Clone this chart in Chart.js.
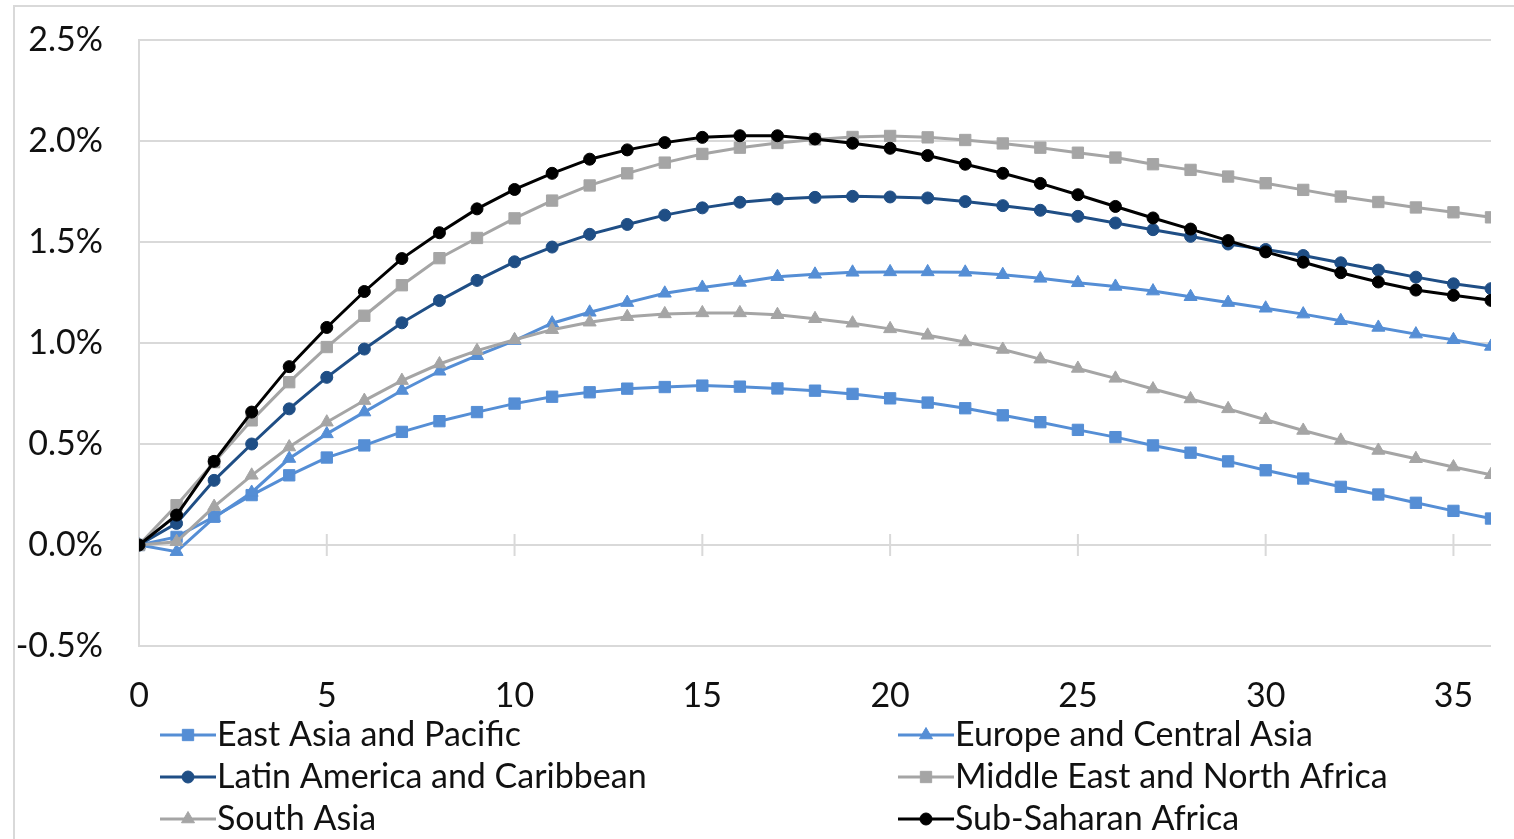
<!DOCTYPE html>
<html>
<head>
<meta charset="utf-8">
<script src="https://cdn.jsdelivr.net/npm/chart.js@4.4.1/dist/chart.umd.min.js"></script>
<style>
  html, body { margin: 0; padding: 0; background: #fff; overflow: hidden; }
  #wrap { position: relative; width: 1514px; height: 839px; }
  #frame { position: absolute; left: 13px; top: 5px; width: 1600px; height: 1000px;
           border-left: 2px solid #d9d9d9; border-top: 2px solid #d9d9d9; box-sizing: border-box; }
  canvas { position: absolute; left: 0; top: 0; }
</style>
</head>
<body>
<div id="wrap">
  <div id="frame"></div>
  <canvas id="c" width="1514" height="839"></canvas>
</div>
<script>
// ---- data (values in %) ----
const periods = [0,1,2,3,4,5,6,7,8,9,10,11,12,13,14,15,16,17,18,19,20,21,22,23,24,25,26,27,28,29,30,31,32,33,34,35,36];
const seriesNames = ["East Asia and Pacific","Europe and Central Asia","Latin America and Caribbean","Middle East and North Africa","South Asia","Sub-Saharan Africa"];
const eastAsiaPacific = [0,0.04,0.14,0.247,0.345,0.433,0.493,0.56,0.613,0.658,0.70,0.734,0.756,0.774,0.782,0.789,0.784,0.775,0.764,0.748,0.726,0.705,0.677,0.642,0.608,0.57,0.534,0.493,0.457,0.414,0.37,0.329,0.288,0.25,0.209,0.169,0.131];
const europeCentralAsia = [0,-0.033,0.135,0.26,0.428,0.55,0.658,0.765,0.86,0.937,1.012,1.098,1.152,1.20,1.246,1.275,1.30,1.328,1.34,1.35,1.352,1.352,1.35,1.338,1.32,1.298,1.28,1.257,1.229,1.20,1.172,1.143,1.11,1.077,1.044,1.016,0.983];
const latinAmericaCaribbean = [0,0.107,0.32,0.50,0.674,0.83,0.97,1.10,1.21,1.31,1.402,1.475,1.538,1.587,1.633,1.669,1.697,1.713,1.721,1.726,1.723,1.718,1.70,1.68,1.657,1.627,1.594,1.561,1.528,1.49,1.463,1.433,1.397,1.361,1.326,1.293,1.269];
const middleEastNorthAfrica = [0,0.197,0.41,0.617,0.806,0.98,1.135,1.286,1.42,1.52,1.617,1.705,1.78,1.84,1.893,1.936,1.967,1.99,2.008,2.02,2.025,2.018,2.005,1.988,1.967,1.942,1.918,1.885,1.857,1.824,1.791,1.758,1.725,1.698,1.671,1.647,1.622];
const southAsia = [0,0.016,0.19,0.345,0.485,0.608,0.715,0.814,0.896,0.962,1.016,1.066,1.103,1.13,1.144,1.149,1.149,1.14,1.12,1.098,1.07,1.038,1.005,0.968,0.92,0.874,0.825,0.772,0.723,0.674,0.62,0.567,0.518,0.468,0.427,0.386,0.348];
const subSaharanAfrica = [0,0.148,0.414,0.658,0.883,1.077,1.255,1.418,1.546,1.664,1.76,1.84,1.91,1.956,1.992,2.018,2.026,2.026,2.01,1.989,1.964,1.928,1.885,1.84,1.79,1.734,1.676,1.619,1.564,1.507,1.451,1.40,1.348,1.302,1.262,1.236,1.211];
const yTicks = [-0.5,0,0.5,1.0,1.5,2.0,2.5];
const xTickStep = 5;

// ---- styles ----
const allValues = [eastAsiaPacific, europeCentralAsia, latinAmericaCaribbean, middleEastNorthAfrica, southAsia, subSaharanAfrica];
const colors = ['#558ed5','#558ed5','#1f4e85','#a5a5a5','#a5a5a5','#000000'];
const markers = ['rect','triangle','circle','rect','triangle','circle'];
const radii = [8,7.5,6,8,7.5,6];
const FONT = 'Lato';
const FSIZE = 34;
const TXT = '#111111';

Chart.defaults.font.family = FONT;
Chart.defaults.font.size = FSIZE;
Chart.defaults.color = TXT;

const datasets = allValues.map((vals, i) => ({
  label: seriesNames[i],
  data: periods.map((p, k) => ({x: p, y: vals[k]})),
  borderColor: colors[i],
  backgroundColor: colors[i],
  borderWidth: 3,
  pointStyle: markers[i],
  pointRadius: radii[i],
  pointBorderWidth: 1,
  pointBackgroundColor: colors[i],
  pointBorderColor: colors[i],
  tension: 0,
  order: allValues.length - i
}));

const zeroAxis = {
  id: 'zeroAxis',
  beforeDatasetsDraw(chart) {
    const {ctx, chartArea, scales} = chart;
    const y0 = scales.y.getPixelForValue(0);
    ctx.save();
    ctx.strokeStyle = '#d9d9d9';
    ctx.lineWidth = 2;
    ctx.beginPath();
    ctx.moveTo(chartArea.left, y0);
    ctx.lineTo(chartArea.right, y0);
    scales.x.ticks.forEach(t => {
      const px = scales.x.getPixelForValue(t.value);
      ctx.moveTo(px, y0 - 11);
      ctx.lineTo(px, y0 + 11);
    });
    ctx.stroke();
    ctx.restore();
  }
};

const customLegend = {
  id: 'customLegend',
  afterDraw(chart) {
    const ctx = chart.ctx;
    const colX = [160, 898];
    const rowY0 = 735, rowStep = 42, lineLen = 56;
    ctx.save();
    chart.data.datasets.forEach((ds, i) => {
      const x = colX[i % 2];
      const y = rowY0 + Math.floor(i / 2) * rowStep;
      ctx.strokeStyle = ds.borderColor;
      ctx.lineWidth = 3;
      ctx.beginPath();
      ctx.moveTo(x, y);
      ctx.lineTo(x + lineLen, y);
      ctx.stroke();
      ctx.fillStyle = ds.backgroundColor;
      ctx.strokeStyle = ds.borderColor;
      ctx.lineWidth = 1;
      Chart.helpers.drawPoint(ctx, {pointStyle: ds.pointStyle, radius: ds.pointRadius, borderWidth: 1, rotation: 0}, x + lineLen / 2, y);
      ctx.fillStyle = TXT;
      ctx.font = FSIZE + 'px ' + FONT;
      ctx.textBaseline = 'middle';
      ctx.textAlign = 'left';
      ctx.fillText(ds.label, x + lineLen + 1, y);
    });
    ctx.restore();
  }
};

new Chart(document.getElementById('c'), {
  type: 'line',
  data: { datasets },
  plugins: [zeroAxis, customLegend],
  options: {
    responsive: false,
    animation: false,
    layout: { padding: { top: 40, right: 23, left: 0, bottom: 0 } },
    plugins: { legend: { display: false }, tooltip: { enabled: false } },
    scales: {
      x: {
        type: 'linear', min: 0, max: 36,
        ticks: { stepSize: xTickStep, includeBounds: false, padding: 30, color: TXT, maxRotation: 0 },
        grid: { display: false, drawTicks: false },
        border: { display: false },
        afterFit(s) { s.height = 193; s.paddingLeft = 0; s.paddingRight = 0; }
      },
      y: {
        min: yTicks[0], max: yTicks[yTicks.length - 1],
        afterBuildTicks(s) { s.ticks = yTicks.map(v => ({value: v})); },
        ticks: { padding: 36, color: TXT, callback: v => v.toFixed(1) + '%' },
        grid: { color: '#d9d9d9', lineWidth: 2, drawTicks: false },
        border: { display: true, color: '#d9d9d9', width: 2 },
        afterFit(s) { s.width = 139; s.paddingTop = 0; s.paddingBottom = 0; }
      }
    }
  }
});
</script>
</body>
</html>
